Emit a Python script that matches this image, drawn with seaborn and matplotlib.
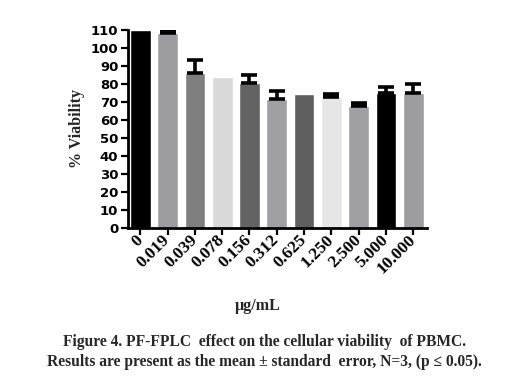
import matplotlib
matplotlib.use("Agg")
import matplotlib.pyplot as plt
import seaborn as sns
import numpy as np
import pandas as pd

concentrations = ["0", "0.019", "0.039", "0.078", "0.156", "0.312", "0.625",
                  "1.250", "2.500", "5.000", "10.000"]
viability = [109.7, 108.0, 86.0, 83.7, 80.7, 71.5, 74.5, 72.6, 67.8, 74.8, 74.8]
sem_upper = [0.0, 2.0, 7.5, 0.0, 4.3, 4.8, 0.0, 1.8, 1.8, 3.2, 5.0]
bar_colors = ["#000000", "#9d9d9f", "#7f7f7f", "#d9d9d9", "#636363", "#a0a0a2",
              "#5f5f5f", "#e6e6e6", "#a0a0a2", "#000000", "#9d9d9f"]
yticks = list(range(0, 111, 10))

sns.set_theme(style="ticks")
plt.rcParams["font.family"] = ["DejaVu Sans"]

df = pd.DataFrame({"conc": concentrations, "viability": viability})

fig = plt.figure(figsize=(5.29, 3.78), dpi=100)
ax = fig.add_axes([0.242, 0.397, 0.565, 0.524])

sns.barplot(data=df, x="conc", y="viability", hue="conc", palette=bar_colors,
            order=concentrations, hue_order=concentrations, legend=False,
            width=0.76, errorbar=None, saturation=1, ax=ax)

xs = np.arange(len(concentrations))
err = np.array(sem_upper)
mask = err > 0
ax.errorbar(xs[mask], np.array(viability)[mask],
            yerr=[np.zeros(mask.sum()), err[mask]],
            fmt="none", ecolor="black", elinewidth=2.6, capsize=5.5, capthick=2.6,
            zorder=5)

ax.set_ylim(0, 110)
ax.set_xlim(-0.45, 10.5)
ax.set_yticks(yticks)
ax.set_yticklabels([str(t) for t in yticks], fontsize=9.5, fontweight="bold",
                   family="DejaVu Sans")
ax.set_xticks(xs)
ax.set_xticklabels(concentrations, rotation=45, ha="right", va="center",
                   rotation_mode="anchor", fontsize=12.5, fontweight="bold",
                   family="Liberation Serif")
for lbl in ax.get_xticklabels():
    lbl.set_transform(lbl.get_transform() + matplotlib.transforms.ScaledTranslation(
        5/72, -7/72, fig.dpi_scale_trans))

ax.tick_params(axis="both", direction="out", length=5, width=1.6, colors="black",
               pad=2)
for side in ["left", "bottom"]:
    ax.spines[side].set_linewidth(2.0)
    ax.spines[side].set_color("black")
sns.despine(ax=ax)

ax.set_xlabel("")
ax.set_ylabel("")
fig.text(0.146, 0.659, "% Viability", rotation=90, ha="center", va="center",
         fontsize=11.5, fontweight="bold", family="Liberation Serif")
fig.text(0.488, 0.19, "µg/mL", ha="center", va="center",
         fontsize=11.5, fontweight="bold", family="Liberation Serif")
fig.text(0.5, 0.095, "Figure 4. PF-FPLC  effect on the cellular viability  of PBMC.",
         ha="center", va="center", fontsize=11.2, fontweight="bold",
         family="Liberation Serif")
fig.text(0.5, 0.042, "Results are present as the mean ± standard  error, N=3, (p ≤ 0.05).",
         ha="center", va="center", fontsize=11.2, fontweight="bold",
         family="Liberation Serif")

fig.savefig("out.png", dpi=100, facecolor="white")
